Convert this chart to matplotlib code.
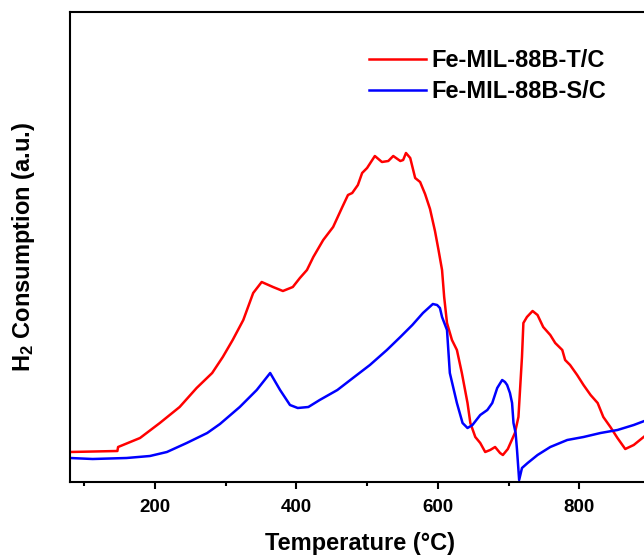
import matplotlib
matplotlib.use("Agg")
import matplotlib.pyplot as plt
from matplotlib.ticker import MultipleLocator

plt.rcParams['font.family'] = ['Liberation Sans', 'DejaVu Sans']
plt.rcParams['font.weight'] = 'bold'
plt.rcParams['mathtext.fontset'] = 'custom'
plt.rcParams['mathtext.bf'] = 'Liberation Sans:bold'
plt.rcParams['mathtext.rm'] = 'Liberation Sans:bold'
plt.rcParams['mathtext.default'] = 'bf'

# Fe-MIL-88B-T/C (red)
t_red = [80, 147, 148, 179, 207, 235, 259, 281, 296, 310, 325, 339, 351, 367, 381, 395,
         405, 415, 424, 438, 452, 465, 473, 479, 487, 493, 500, 511, 521, 530, 537, 547,
         551, 555, 561, 568, 575, 582, 589, 596, 601, 606, 609, 613, 620, 627, 634, 642,
         646, 653, 660, 667, 674, 681, 688, 692, 699, 709, 714, 719, 721, 726, 734, 741,
         749, 759, 766, 776, 780, 787, 797, 806, 816, 826, 834, 844, 854, 865, 877, 891, 900]
h_red = [30, 31, 35, 44, 59, 75, 94, 109, 125, 142, 162, 189, 200, 195, 191, 195,
         204, 212, 225, 242, 255, 275, 287, 289, 297, 309, 314, 326, 320, 321, 326, 321,
         322, 329, 324, 304, 300, 288, 273, 251, 232, 212, 185, 159, 142, 132, 109, 79,
         59, 45, 39, 30, 32, 35, 29, 27, 33, 49, 65, 125, 159, 165, 171, 167,
         155, 147, 139, 132, 122, 117, 107, 97, 87, 79, 65, 55, 44, 33, 37, 45, 50]

# Fe-MIL-88B-S/C (blue)
t_blue = [80, 112, 160, 193, 217, 245, 274, 292, 320, 344, 363, 377, 391, 402, 417, 433,
          458, 480, 504, 528, 547, 564, 579, 593, 599, 603, 606, 613, 617, 627, 635, 642,
          649, 660, 670, 677, 684, 691, 695, 698, 702, 705, 707, 710, 712, 715, 719, 727,
          741, 759, 783, 806, 830, 854, 877, 892, 900]
h_blue = [24, 23, 24, 26, 30, 39, 49, 58, 75, 92, 109, 92, 77, 74, 75, 82,
          92, 104, 117, 132, 145, 157, 169, 178, 177, 174, 165, 152, 109, 79, 59, 54,
          57, 67, 72, 79, 94, 102, 100, 97, 89, 79, 59, 49, 32, 2, 14, 19,
          27, 35, 42, 45, 49, 52, 57, 61, 64]

labels = ['Fe-MIL-88B-T/C', 'Fe-MIL-88B-S/C']
colors = ['#ff0000', '#0000ff']

fig = plt.figure(figsize=(6.44, 5.57), dpi=100)
ax = fig.add_axes([70/644, 75/557, 580/644, 470/557])

ax.plot(t_red, h_red, color=colors[0], lw=1.8, label=labels[0])
ax.plot(t_blue, h_blue, color=colors[1], lw=1.8, label=labels[1])

ax.set_xlim(80, 900)
ax.set_ylim(0, 470)
ax.set_yticks([])
ax.xaxis.set_major_locator(MultipleLocator(200))
ax.xaxis.set_minor_locator(MultipleLocator(100))
ax.tick_params(axis='x', which='major', direction='out', length=5, width=1.5,
               labelsize=13.5, pad=7.5)
ax.tick_params(axis='x', which='minor', direction='out', length=3, width=1.5)
for s in ax.spines.values():
    s.set_linewidth(1.5)

ax.set_xlabel('Temperature (°C)', fontsize=17, fontweight='bold', labelpad=11.5)
ax.set_ylabel('H$_2$ Consumption (a.u.)', fontsize=17, fontweight='bold', labelpad=24)

ax.legend(loc='upper left', bbox_to_anchor=((369-70)/580, (482-49)/470), frameon=False,
          fontsize=17, handlelength=2.4, handletextpad=0.25, labelspacing=0.35,
          borderpad=0, borderaxespad=0)

fig.savefig('out.png', dpi=100)
